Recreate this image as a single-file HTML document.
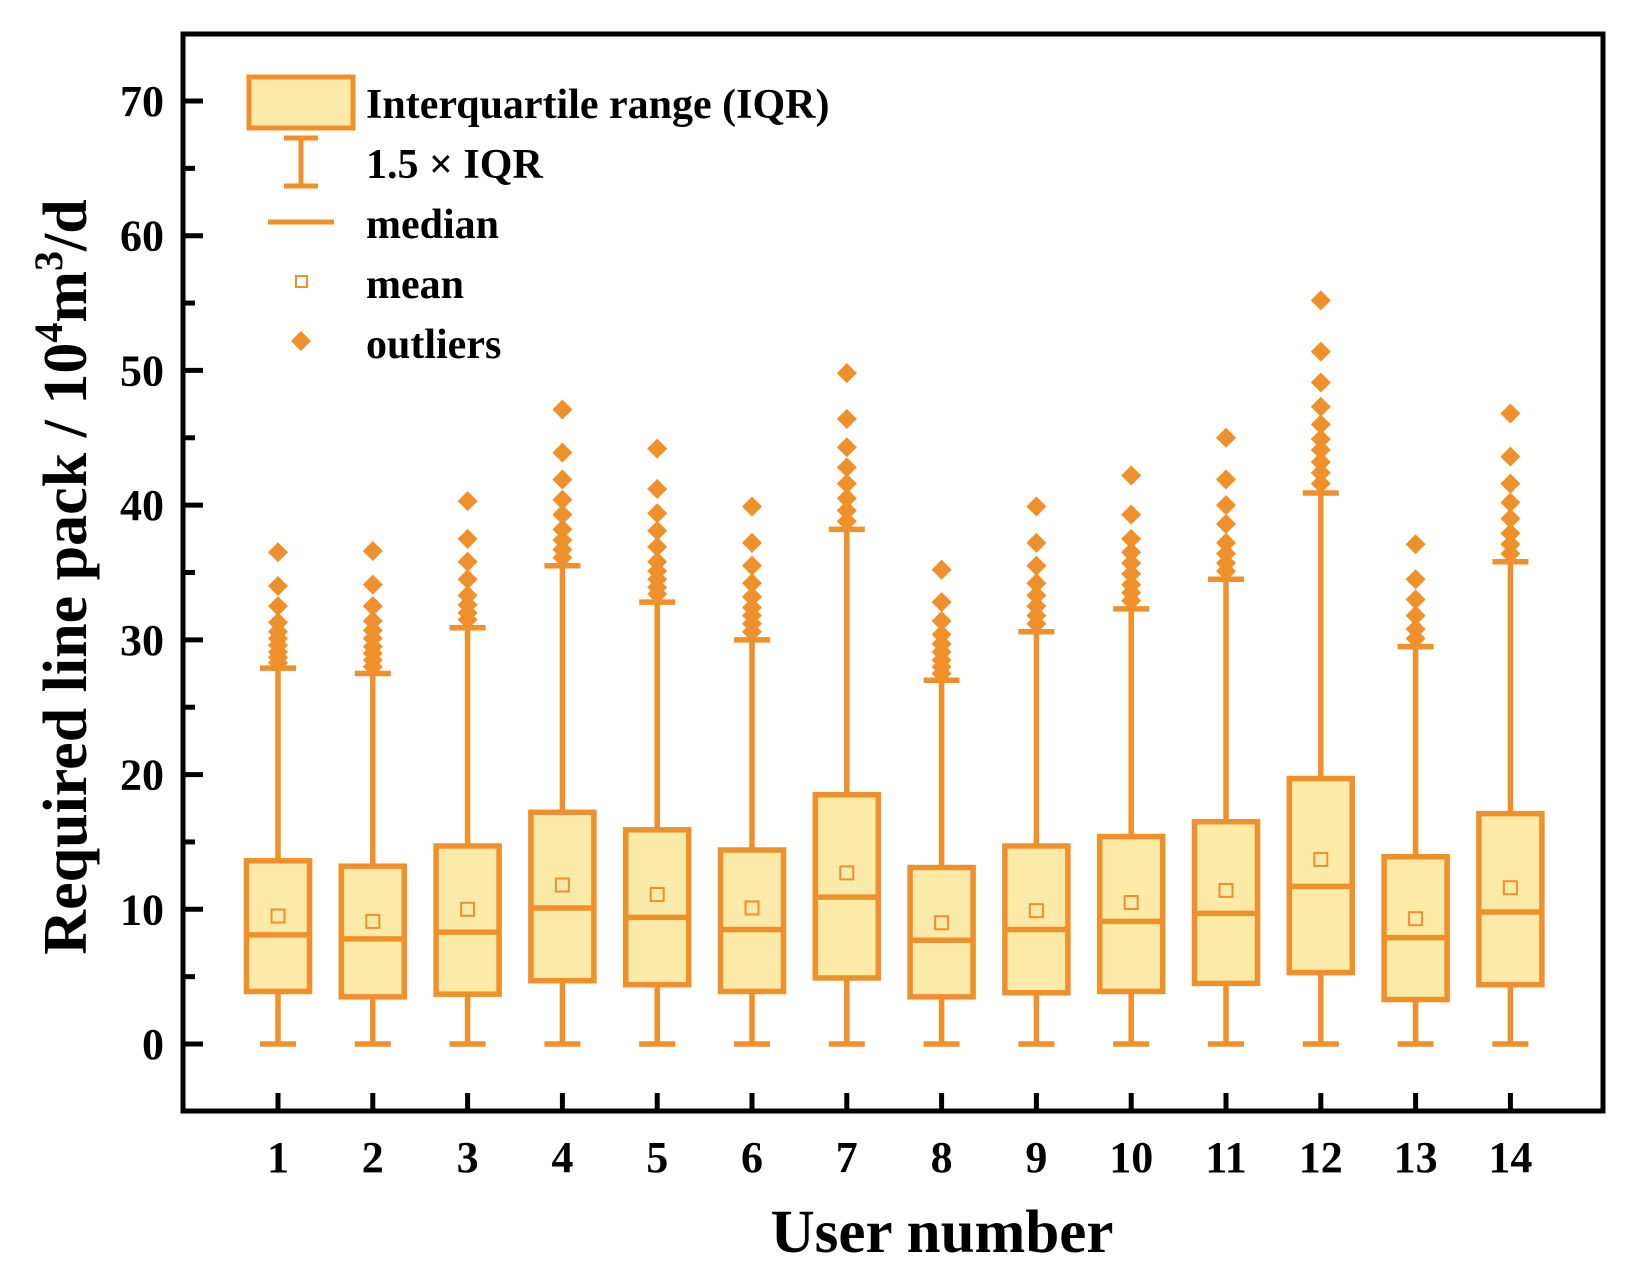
<!DOCTYPE html>
<html><head><meta charset="utf-8"><style>
html,body{margin:0;padding:0;background:#fff;}
svg{display:block;font-family:"Liberation Serif",serif;font-weight:bold;}
</style></head><body>
<svg id="chart" width="1630" height="1273" viewBox="0 0 1630 1273" xmlns="http://www.w3.org/2000/svg">
<g id="marks"></g>
<g id="axes"></g>
<g id="legend">
  <rect x="249" y="77" width="104" height="51" fill="#FBEAA8" stroke="#F0902A" stroke-width="5"/>
  <text x="366" y="118" font-size="42">Interquartile range (IQR)</text>
  <g stroke="#F0902A" stroke-width="5">
    <line x1="301" y1="138" x2="301" y2="186"/><line x1="284" y1="138" x2="318" y2="138"/><line x1="284" y1="186" x2="318" y2="186"/>
  </g>
  <text x="366" y="178" font-size="42">1.5 × IQR</text>
  <line x1="268" y1="222" x2="334" y2="222" stroke="#F0902A" stroke-width="5"/>
  <text x="366" y="238" font-size="42">median</text>
  <rect x="296" y="276" width="11" height="11" fill="none" stroke="#F0902A" stroke-width="2"/>
  <text x="366" y="298" font-size="42">mean</text>
  <path d="M301 331 L311 341 L301 351 L291 341 Z" fill="#F0902A"/>
  <text x="366" y="358" font-size="42">outliers</text>
</g>
</svg>
<script>
const categories = ["1","2","3","4","5","6","7","8","9","10","11","12","13","14"];
const q1 = [3.9,3.5,3.7,4.7,4.4,3.9,4.9,3.5,3.8,3.9,4.5,5.3,3.3,4.4];
const medians = [8.1,7.8,8.3,10.1,9.4,8.5,10.9,7.7,8.5,9.1,9.7,11.7,7.9,9.8];
const q3 = [13.6,13.2,14.7,17.2,15.9,14.4,18.5,13.1,14.7,15.4,16.5,19.7,13.9,17.1];
const means = [9.5,9.1,10.0,11.8,11.1,10.1,12.7,9.0,9.9,10.5,11.4,13.7,9.3,11.6];
const lowerWhisker = [0,0,0,0,0,0,0,0,0,0,0,0,0,0];
const upperWhisker = [27.9,27.5,30.9,35.5,32.8,30.0,38.2,27.0,30.6,32.3,34.5,40.9,29.5,35.8];
const outliers = [
 [28.3,28.7,29.1,29.6,30.1,30.6,31.3,32.5,34.0,36.5],
 [28.0,28.5,29.0,29.5,30.1,30.7,31.4,32.5,34.1,36.6],
 [31.5,32.0,32.6,33.3,34.5,35.8,37.5,40.3],
 [36.1,36.7,37.4,38.2,39.3,40.4,41.9,43.9,47.1],
 [33.4,33.9,34.5,35.1,35.8,36.9,38.1,39.4,41.2,44.2],
 [30.6,31.2,31.8,32.4,33.2,34.2,35.5,37.2,39.9],
 [38.8,39.6,40.5,41.6,42.8,44.3,46.4,49.8],
 [27.5,28.0,28.5,29.1,29.7,30.4,31.4,32.8,35.2],
 [31.2,31.8,32.5,33.3,34.2,35.5,37.2,39.9],
 [32.9,33.5,34.1,34.9,35.7,36.5,37.5,39.3,42.2],
 [35.1,35.7,36.4,37.2,38.6,40.0,41.9,45.0],
 [41.6,42.4,43.2,44.1,44.9,46.0,47.3,49.1,51.4,55.2],
 [30.1,30.8,31.8,33.0,34.5,37.1],
 [36.4,37.1,37.9,39.0,40.2,41.6,43.6,46.8]
];
const yTicks = [0,10,20,30,40,50,60,70];
const yMinorTicks = [5,15,25,35,45,55,65];

const NS = "http://www.w3.org/2000/svg";
const ORANGE = "#F0902A", FILL = "#FBEAA8";
const L = 183, R = 1603, T = 34, B = 1111;
function y(v){ return 1044 - v * (943/70); }
function x(i){ return 278 + i * 94.8; }
function mk(tag, attrs, parent){
  const el = document.createElementNS(NS, tag);
  for (const k in attrs) el.setAttribute(k, attrs[k]);
  parent.appendChild(el); return el;
}
const marks = document.getElementById('marks');
const axes = document.getElementById('axes');
const BW = 63, CAP = 36, DS = 10;
categories.forEach((c, i) => {
  const cx = x(i);
  const g = mk('g', {}, marks);
  
  
  const st = {stroke: ORANGE, 'stroke-width': 5.5};
  const w1 = mk('line', Object.assign({x1: cx, x2: cx, y1: y(upperWhisker[i]), y2: y(q3[i])}, st), g);
  
  
  const w2 = mk('line', Object.assign({x1: cx, x2: cx, y1: y(q1[i]), y2: y(lowerWhisker[i])}, st), g);
  
  
  const c1 = mk('line', Object.assign({x1: cx - CAP/2, x2: cx + CAP/2, y1: y(upperWhisker[i]), y2: y(upperWhisker[i])}, st), g);
  
  
  const c2 = mk('line', Object.assign({x1: cx - CAP/2, x2: cx + CAP/2, y1: y(lowerWhisker[i]), y2: y(lowerWhisker[i])}, st), g);
  
  
  const box = mk('rect', Object.assign({x: cx - BW/2, y: y(q3[i]), width: BW, height: y(q1[i]) - y(q3[i]), fill: FILL}, st), g);
  
  
  const med = mk('line', Object.assign({x1: cx - BW/2, x2: cx + BW/2, y1: y(medians[i]), y2: y(medians[i])}, st), g);
  
  
  const mn = mk('rect', {x: cx - 6.5, y: y(means[i]) - 6.5, width: 13, height: 13, fill: 'none', stroke: ORANGE, 'stroke-width': 2}, g);
  
  
  outliers[i].forEach(v => {
    const yy = y(v);
    const d = mk('path', {d: `M${cx} ${yy-DS} L${cx+DS} ${yy} L${cx} ${yy+DS} L${cx-DS} ${yy} Z`, fill: ORANGE}, g);
    
    
  });
  const tk = mk('line', {x1: cx, x2: cx, y1: B, y2: B - 18, stroke: '#000', 'stroke-width': 5}, axes);
  
  
  const tl = mk('text', {x: cx, y: 1172, 'font-size': 44, 'text-anchor': 'middle'}, axes);
  
  
  tl.textContent = c;
});
yTicks.forEach(v => {
  const t = mk('line', {x1: L, x2: L + 20, y1: y(v), y2: y(v), stroke: '#000', 'stroke-width': 5}, axes);
  
  
  const tl = mk('text', {x: 164, y: y(v) + 15, 'font-size': 44, 'text-anchor': 'end'}, axes);
  
  
  tl.textContent = v;
});
yMinorTicks.forEach(v => {
  const t = mk('line', {x1: L, x2: L + 12, y1: y(v), y2: y(v), stroke: '#000', 'stroke-width': 5}, axes);
  
  
});
const frame = mk('rect', {x: L, y: T, width: R - L, height: B - T, fill: 'none', stroke: '#000', 'stroke-width': 5}, axes);


const xt = mk('text', {x: 942, y: 1252, 'font-size': 61, 'text-anchor': 'middle'}, axes);


xt.textContent = 'User number';
const yt = mk('text', {x: 0, y: 0, 'font-size': 62, 'text-anchor': 'middle', transform: 'translate(86,577) rotate(-90)'}, axes);


yt.innerHTML = 'Required line pack / 10<tspan dy="-24" font-size="40">4</tspan><tspan dy="24">m</tspan><tspan dy="-24" font-size="40">3</tspan><tspan dy="24">/d</tspan>';
</script>
</body></html>
